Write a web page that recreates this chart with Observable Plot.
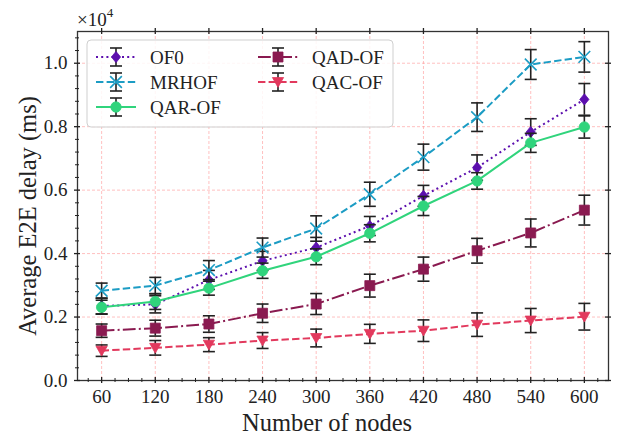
<!DOCTYPE html>
<html><head><meta charset="utf-8">
<script src="https://cdn.jsdelivr.net/npm/d3@7"></script>
<script src="https://cdn.jsdelivr.net/npm/@observablehq/plot@0.6"></script>
<style>
body{margin:0;background:#fff}
#chart{position:relative;width:621px;height:437px}
</style>
</head><body><div id="chart"></div>
<script>
// ---- data (values in units of 10^4 ms) ----
const nodes = [60, 120, 180, 240, 300, 360, 420, 480, 540, 600];
const seriesNames = ["OF0", "MRHOF", "QAR-OF", "QAD-OF", "QAC-OF"];
const of0      = [0.235, 0.240, 0.317, 0.377, 0.419, 0.487, 0.582, 0.671, 0.783, 0.886];
const of0Err   = [0.025, 0.027, 0.030, 0.030, 0.032, 0.030, 0.033, 0.040, 0.042, 0.050];
const mrhof    = [0.283, 0.299, 0.348, 0.419, 0.479, 0.587, 0.704, 0.830, 0.996, 1.020];
const mrhofErr = [0.024, 0.026, 0.030, 0.030, 0.040, 0.038, 0.041, 0.045, 0.047, 0.048];
const qar      = [0.231, 0.249, 0.291, 0.346, 0.390, 0.464, 0.550, 0.629, 0.749, 0.799];
const qarErr   = [0.022, 0.025, 0.022, 0.024, 0.025, 0.027, 0.030, 0.026, 0.030, 0.035];
const qad      = [0.157, 0.165, 0.178, 0.212, 0.241, 0.299, 0.351, 0.409, 0.465, 0.537];
const qadErr   = [0.021, 0.025, 0.026, 0.029, 0.033, 0.036, 0.038, 0.039, 0.044, 0.047];
const qac      = [0.094, 0.103, 0.113, 0.126, 0.134, 0.147, 0.157, 0.176, 0.189, 0.201];
const qacErr   = [0.018, 0.023, 0.022, 0.025, 0.028, 0.030, 0.034, 0.037, 0.038, 0.042];
const xTickValues = [60, 120, 180, 240, 300, 360, 420, 480, 540, 600];
const yTickValues = [0.0, 0.2, 0.4, 0.6, 0.8, 1.0];
const xLabel = "Number of nodes";
const yLabel = "Average E2E delay (ms)";

// ---- symbols ----
const half = size => Math.sqrt(size / Math.PI);
const symDiamond = {draw(c, s){const r = half(s); c.moveTo(0,-r); c.lineTo(r*0.82,0); c.lineTo(0,r); c.lineTo(-r*0.82,0); c.closePath();}};
const symX = {draw(c, s){const r = half(s)*0.75; c.moveTo(-r,-r); c.lineTo(r,r); c.moveTo(-r,r); c.lineTo(r,-r);}};
const symCircle = {draw(c, s){const r = half(s); c.moveTo(r,0); c.arc(0,0,r,0,2*Math.PI); c.closePath();}};
const symSquare = {draw(c, s){const r = half(s); c.rect(-r,-r,2*r,2*r);}};
const symTri = {draw(c, s){const r = half(s); c.moveTo(-r,-r*0.8); c.lineTo(r,-r*0.8); c.lineTo(0,r*0.95); c.closePath();}};
const symCap = {draw(c, s){const r = half(s); c.moveTo(-r,0); c.lineTo(r,0);}};

const styles = [
  {color: "#5c0fae", dash: "2,3.2", sym: symDiamond, r: 5.6, filled: true},
  {color: "#1c9cc4", dash: "7.4,3.2", sym: symX, r: 7.8, filled: false},
  {color: "#30d47c", dash: null, sym: symCircle, r: 5.2, filled: true},
  {color: "#8a1a50", dash: "12.8,3.2,2,3.2", sym: symSquare, r: 5, filled: true},
  {color: "#e2395d", dash: "7.4,3.2", sym: symTri, r: 5.6, filled: true}
];
const values = [of0, mrhof, qar, qad, qac];
const errs = [of0Err, mrhofErr, qarErr, qadErr, qacErr];

const rows = [];
seriesNames.forEach((name, i) => nodes.forEach((n, j) => rows.push({series: name, n, v: values[i][j], e: errs[i][j]})));

const W = 621, H = 437, mL = 77, mR = 13, mT = 31, mB = 57;
const fw = W - mL - mR, fh = H - mT - mB;
const font = "'Liberation Serif','Times New Roman',serif";
const ink = "#222";

const xMinor = d3.range(45, 630, 15).filter(d => !xTickValues.includes(d));
const yMinor = d3.range(1, 28).map(k => +(k*0.04).toFixed(2)).filter(d => Math.abs(d/0.2 - Math.round(d/0.2)) > 1e-6);

const marks = [
  Plot.gridX({ticks: xTickValues, stroke: "#ff9e9e", strokeOpacity: 0.65, strokeDasharray: "3,2", strokeWidth: 1}),
  Plot.gridY({ticks: yTickValues, stroke: "#ff9e9e", strokeOpacity: 0.65, strokeDasharray: "3,2", strokeWidth: 1}),
];
seriesNames.forEach((name, i) => {
  const st = styles[i];
  const d = rows.filter(r => r.series === name);
  marks.push(Plot.line(d, {x: "n", y: "v", stroke: st.color, strokeWidth: 2, strokeDasharray: st.dash, strokeLinecap: "butt"}));
  marks.push(Plot.ruleX(d, {x: "n", y1: r => r.v - r.e, y2: r => r.v + r.e, stroke: ink, strokeWidth: 1.6}));
  marks.push(Plot.dot(d, {x: "n", y: r => r.v - r.e, symbol: symCap, r: 6, stroke: ink, strokeWidth: 1.6, fill: "none"}));
  marks.push(Plot.dot(d, {x: "n", y: r => r.v + r.e, symbol: symCap, r: 6, stroke: ink, strokeWidth: 1.6, fill: "none"}));
  marks.push(Plot.dot(d, {x: "n", y: "v", symbol: st.sym, r: st.r, fill: st.filled ? st.color : "none", stroke: st.color, strokeWidth: st.filled ? 0.8 : 1.6}));
});
marks.push(
  Plot.frame({stroke: "#333", strokeWidth: 1.3}),
  // major ticks (in/out) on four sides
  Plot.tickX(xTickValues, {x: d => d, insetTop: fh - 3, insetBottom: -3, stroke: ink, strokeWidth: 1.3}),
  Plot.tickX(xTickValues, {x: d => d, insetTop: -3, insetBottom: fh - 3, stroke: ink, strokeWidth: 1.3}),
  Plot.tickY(yTickValues, {y: d => d, insetLeft: -3, insetRight: fw - 3, stroke: ink, strokeWidth: 1.3}),
  Plot.tickY(yTickValues, {y: d => d, insetLeft: fw - 3, insetRight: -3, stroke: ink, strokeWidth: 1.3}),
  // minor ticks on bottom and left
  Plot.tickX(xMinor, {x: d => d, insetTop: fh - 2, insetBottom: -2, stroke: ink, strokeWidth: 1}),
  Plot.tickY(yMinor, {y: d => d, insetLeft: -2, insetRight: fw - 2, stroke: ink, strokeWidth: 1}),
  Plot.axisX({ticks: xTickValues, tickSize: 0, tickPadding: 9, label: null, fontSize: 19, tickFormat: d => String(d)}),
  Plot.axisY({ticks: yTickValues, tickSize: 0, tickPadding: 10, label: null, fontSize: 19, tickFormat: d3.format(".1f")}),
  Plot.text([xLabel], {frameAnchor: "bottom", dx: -16, dy: 50, fontSize: 24.5, fill: ink, textAnchor: "middle", lineAnchor: "bottom", text: d => d}),
  Plot.text([yLabel], {frameAnchor: "left", dx: -49, dy: 10, rotate: -90, fontSize: 24.5, fill: ink, textAnchor: "middle", lineAnchor: "middle", text: d => d})
);

const chart = Plot.plot({
  width: W, height: H,
  marginLeft: mL, marginRight: mR, marginTop: mT, marginBottom: mB,
  x: {type: "linear", domain: [33, 627]},
  y: {type: "linear", domain: [0, 1.1]},
  style: {fontFamily: font, color: ink, background: "#fff", overflow: "visible"},
  marks
});

const svg = d3.select(chart);
// multiplier label
const mult = svg.append("text").attr("x", mL).attr("y", 26).attr("text-anchor", "start")
  .attr("font-family", font).attr("font-size", 19).attr("fill", ink);
mult.append("tspan").text("×10");
mult.append("tspan").attr("dy", -9).attr("font-size", 13).text("4");

// legend
const lg = svg.append("g");
lg.append("rect").attr("x", 87).attr("y", 40).attr("width", 306).attr("height", 87).attr("rx", 4)
  .attr("fill", "#fff").attr("fill-opacity", 0.85).attr("stroke", "#cfcfcf").attr("stroke-width", 1);
const legendPos = [[96, 57], [96, 82], [96, 107], [258, 57], [258, 82]];
seriesNames.forEach((name, i) => {
  const st = styles[i];
  const [x0, y0] = legendPos[i];
  const g = lg.append("g");
  g.append("line").attr("x1", x0).attr("x2", x0 + 40).attr("y1", y0).attr("y2", y0)
    .attr("stroke", st.color).attr("stroke-width", 2).attr("stroke-dasharray", st.dash).attr("stroke-linecap", "butt");
  const cx = x0 + 20;
  g.append("line").attr("x1", cx).attr("x2", cx).attr("y1", y0 - 9).attr("y2", y0 + 9).attr("stroke", ink).attr("stroke-width", 1.6);
  [-9, 9].forEach(o => g.append("line").attr("x1", cx - 6).attr("x2", cx + 6).attr("y1", y0 + o).attr("y2", y0 + o).attr("stroke", ink).attr("stroke-width", 1.6));
  g.append("path").attr("transform", `translate(${cx},${y0})`)
    .attr("d", d3.symbol(st.sym, st.r * st.r * Math.PI)())
    .attr("fill", st.filled ? st.color : "none").attr("stroke", st.color).attr("stroke-width", st.filled ? 0.8 : 1.6);
  g.append("text").attr("x", x0 + 54).attr("y", y0).attr("dy", "0.35em").attr("text-anchor", "start")
    .attr("font-family", font).attr("font-size", 19).attr("fill", ink).text(name);
});

document.getElementById("chart").append(chart);
</script>
</body></html>
